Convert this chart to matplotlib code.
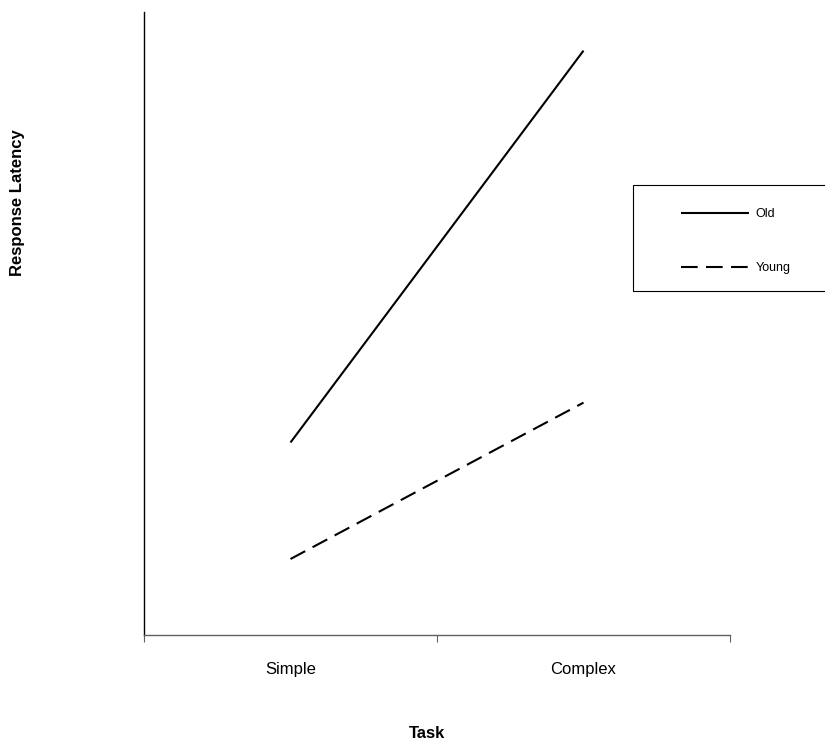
import matplotlib
matplotlib.use("Agg")
import matplotlib.pyplot as plt
from matplotlib.lines import Line2D
from matplotlib.patches import Rectangle

plt.rcParams['font.family'] = ['Liberation Sans', 'DejaVu Sans']

categories = ["Simple", "Complex"]
old = [30.9, 93.8]
young = [12.2, 37.3]
series_names = ["Old", "Young"]

W, H = 825, 747
fig = plt.figure(figsize=(W/100, H/100), dpi=100)
ax = fig.add_axes([144/W, 1-635/H, (730-144)/W, (635-12)/H])

xpos = [0.5, 1.5]
ax.plot(xpos, old, color='black', lw=1.5, solid_capstyle='butt')
ax.plot(xpos, young, color='black', lw=1.5, dashes=(8, 4), dash_capstyle='butt')
ax.set_xlim(0, 2)
ax.set_ylim(0, 100)

ax.spines['top'].set_visible(False)
ax.spines['right'].set_visible(False)
ax.spines['left'].set_color('black')
ax.spines['bottom'].set_color('#606060')
ax.spines['left'].set_linewidth(1.0)
ax.spines['bottom'].set_linewidth(1.0)
ax.set_yticks([])
ax.set_xticks([0, 1, 2])
ax.set_xticklabels([])
ax.tick_params(axis='x', direction='out', length=5, color='#606060')
for x, lab in zip(xpos, categories):
    ax.text(x, -0.043, lab, transform=ax.get_xaxis_transform(), ha='center', va='top', fontsize=12)

fig.text(18/W, 1-203/H, "Response Latency", rotation=90, ha='center', va='center', fontsize=12, fontweight='bold')
fig.text(427/W, 1-733/H, "Task", ha='center', va='center', fontsize=12, fontweight='bold')

# legend frame
fig.patches.append(Rectangle((633/W, 1-291/H), 200/W, 106/H, transform=fig.transFigure,
                             facecolor='white', edgecolor='black', lw=0.8, zorder=2))

handles = [Line2D([0], [0], color='black', lw=1.5, solid_capstyle='butt'),
           Line2D([0], [0], color='black', lw=1.5, dashes=(8, 4), dash_capstyle='butt')]
leg = fig.legend(handles, series_names, loc='upper left',
                 bbox_to_anchor=(681/W, 1-208/H),
                 frameon=False, fontsize=9,
                 handlelength=5.45, labelspacing=3.35, borderpad=0, handletextpad=0.5,
                 borderaxespad=0)
leg.set_zorder(3)

fig.savefig("out.png", dpi=100)
